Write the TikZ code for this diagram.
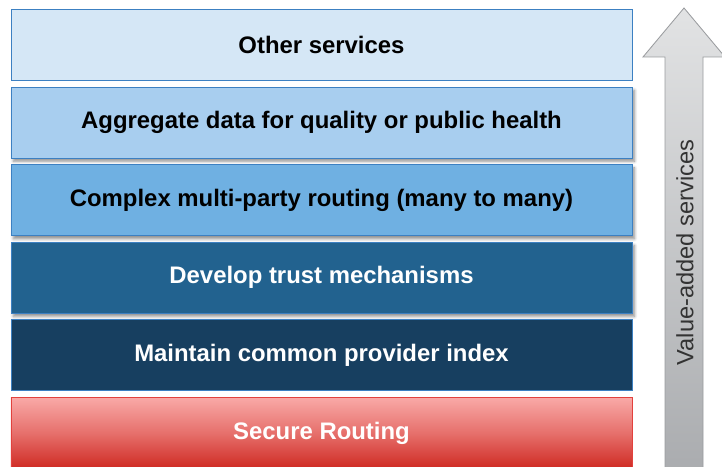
\documentclass[tikz,border=0pt]{standalone}
\usepackage{fontspec}
\setmainfont{Liberation Sans}
\usetikzlibrary{shadows.blur}

\definecolor{layerA}{HTML}{D5E7F6}
\definecolor{layerB}{HTML}{A8CEEF}
\definecolor{layerC}{HTML}{6FB0E2}
\definecolor{layerD}{HTML}{22628F}
\definecolor{layerE}{HTML}{173F60}
\definecolor{layerEdge}{HTML}{3C80C2}
\definecolor{routeTop}{HTML}{F9A9A7}
\definecolor{routeBot}{HTML}{CF2A23}
\definecolor{routeEdge}{HTML}{E2413D}
\definecolor{arrowTop}{HTML}{E2E3E4}
\definecolor{arrowBot}{HTML}{A9ABAE}
\definecolor{arrowEdge}{HTML}{9A9C9F}

\begin{document}
\begin{tikzpicture}[every node/.style={minimum width=15.525cm, minimum height=1.775cm, outer sep=0pt, anchor=west, font=\fontsize{17}{20}\selectfont\bfseries}, layer/.style={draw=layerEdge, line width=0.6pt}, shade/.style={blur shadow={shadow blur steps=6, shadow xshift=0.6mm, shadow yshift=-0.8mm, shadow opacity=45}}]
	\useasboundingbox (0, 0) rectangle (18.05, 11.675);

	% Pfeil rechts
	\draw[arrowEdge, line width=0.6pt, top color=arrowTop, bottom color=arrowBot] (16.625, -0.3) -- (16.625, 10.25) -- (16.075, 10.25) -- (17.1, 11.475) -- (18.125, 10.25) -- (17.575, 10.25) -- (17.575, -0.3) -- cycle;
	\node[rotate=90, anchor=center, minimum width=0pt, minimum height=0pt, font=\fontsize{16.8}{19}\selectfont, text=black!80] (wert) at (17.12, 5.36) {Value-added services};

	% Schichten
	\node[layer, fill=layerA] (other) at (0.275, 10.55) {Other services};
	\node[layer, fill=layerB, shade] (aggr) at (0.275, 8.61) {Aggregate data for quality or public health};
	\node[layer, fill=layerC, shade] (multi) at (0.275, 6.67) {Complex multi-party routing (many to many)};
	\node[layer, fill=layerD, text=white, shade] (trust) at (0.275, 4.73) {Develop trust mechanisms};
	\node[layer, fill=layerE, text=white] (index) at (0.275, 2.79) {Maintain common provider index};
	\node[draw=routeEdge, line width=0.6pt, top color=routeTop, bottom color=routeBot, middle color=routeTop!55!routeBot, text=white] (route) at (0.275, 0.85) {Secure Routing};
\end{tikzpicture}
\end{document}
